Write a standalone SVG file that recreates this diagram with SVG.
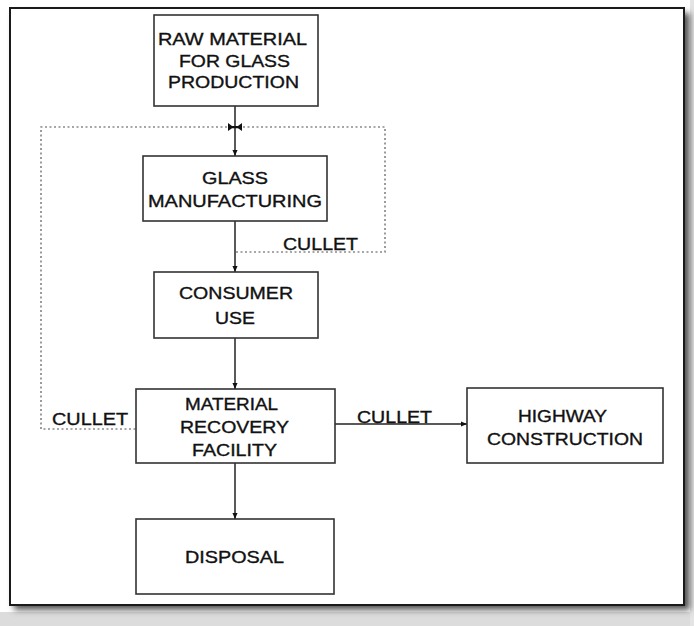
<svg xmlns="http://www.w3.org/2000/svg" width="694" height="626" viewBox="0 0 694 626">
  <defs>
    <filter id="shadow" x="-5%" y="-5%" width="115%" height="115%">
      <feGaussianBlur stdDeviation="3"/>
    </filter>
    <marker id="arrow" viewBox="0 0 8 8" refX="8" refY="4" markerWidth="6" markerHeight="7" orient="auto" markerUnits="userSpaceOnUse">
      <path d="M0,0.6 L8,4 L0,7.4 Z" fill="#111"/>
    </marker>
    <style>
      .box { fill: #fff; stroke: #333; stroke-width: 1.6; }
      .lbl { font-family: "Liberation Sans", Arial, sans-serif; font-size: 17px; fill: #111; stroke: #111; stroke-width: 0.35; text-anchor: middle; }
      .edge { fill: none; stroke: #222; stroke-width: 1.5; }
      .dot { fill: none; stroke: #8a8a8a; stroke-width: 1.7; stroke-dasharray: 2 2.5; }
    </style>
  </defs>

  <!-- page background and frame -->
  <rect x="0" y="0" width="694" height="626" fill="#fff"/>
  <rect x="0" y="612" width="694" height="14" fill="#dcdcdc"/>
  <rect x="690" y="0" width="4" height="626" fill="#e4e4e4"/>
  <rect x="14" y="13" width="676" height="597" fill="#555" filter="url(#shadow)"/>
  <rect x="10" y="8" width="674" height="597" fill="#fff" stroke="#1a1a1a" stroke-width="2"/>

  <!-- connectors -->
  <g id="connectors">
    <line class="edge" x1="235" y1="106" x2="235" y2="156" marker-end="url(#arrow)"/>
    <line class="edge" x1="235" y1="221" x2="235" y2="272" marker-end="url(#arrow)"/>
    <line class="edge" x1="235" y1="338" x2="235" y2="389" marker-end="url(#arrow)"/>
    <line class="edge" x1="235" y1="463" x2="235" y2="519" marker-end="url(#arrow)"/>
    <line class="edge" x1="335" y1="424" x2="467" y2="424" marker-end="url(#arrow)"/>
    <path class="dot" d="M236,252 H385 V127 H41 V429 H136"/>
    <path d="M228,123 L232,126 H238 L242,123 V131 L238,128.2 H232 L228,131 Z" fill="#111"/>
    <text class="lbl" x="394.5" y="423" textLength="75" lengthAdjust="spacingAndGlyphs">CULLET</text>
    <text class="lbl" x="320.5" y="250" textLength="75" lengthAdjust="spacingAndGlyphs">CULLET</text>
    <text class="lbl" x="90" y="425" textLength="76" lengthAdjust="spacingAndGlyphs">CULLET</text>
  </g>

  <g id="raw-material">
    <rect class="box" x="154" y="15" width="164" height="91"/>
    <text class="lbl" x="232.5" y="45" textLength="149" lengthAdjust="spacingAndGlyphs">RAW MATERIAL</text>
    <text class="lbl" x="234.5" y="67" textLength="111" lengthAdjust="spacingAndGlyphs">FOR GLASS</text>
    <text class="lbl" x="233.5" y="88" textLength="131" lengthAdjust="spacingAndGlyphs">PRODUCTION</text>
  </g>

  <g id="glass-manufacturing">
    <rect class="box" x="143" y="156" width="184" height="65"/>
    <text class="lbl" x="235" y="184" textLength="66" lengthAdjust="spacingAndGlyphs">GLASS</text>
    <text class="lbl" x="235" y="207" textLength="174" lengthAdjust="spacingAndGlyphs">MANUFACTURING</text>
  </g>

  <g id="consumer-use">
    <rect class="box" x="154" y="272" width="164" height="66"/>
    <text class="lbl" x="236" y="299" textLength="114" lengthAdjust="spacingAndGlyphs">CONSUMER</text>
    <text class="lbl" x="235" y="324" textLength="40" lengthAdjust="spacingAndGlyphs">USE</text>
  </g>

  <g id="material-recovery-facility">
    <rect class="box" x="136" y="389" width="199" height="74"/>
    <text class="lbl" x="231.5" y="410" textLength="93" lengthAdjust="spacingAndGlyphs">MATERIAL</text>
    <text class="lbl" x="234.5" y="433" textLength="109" lengthAdjust="spacingAndGlyphs">RECOVERY</text>
    <text class="lbl" x="234.5" y="456" textLength="85" lengthAdjust="spacingAndGlyphs">FACILITY</text>
  </g>

  <g id="highway-construction">
    <rect class="box" x="467" y="388" width="196" height="75"/>
    <text class="lbl" x="562.5" y="422" textLength="89" lengthAdjust="spacingAndGlyphs">HIGHWAY</text>
    <text class="lbl" x="565" y="445" textLength="156" lengthAdjust="spacingAndGlyphs">CONSTRUCTION</text>
  </g>

  <g id="disposal">
    <rect class="box" x="136" y="519" width="198" height="75"/>
    <text class="lbl" x="234.5" y="563" textLength="99" lengthAdjust="spacingAndGlyphs">DISPOSAL</text>
  </g>
</svg>
